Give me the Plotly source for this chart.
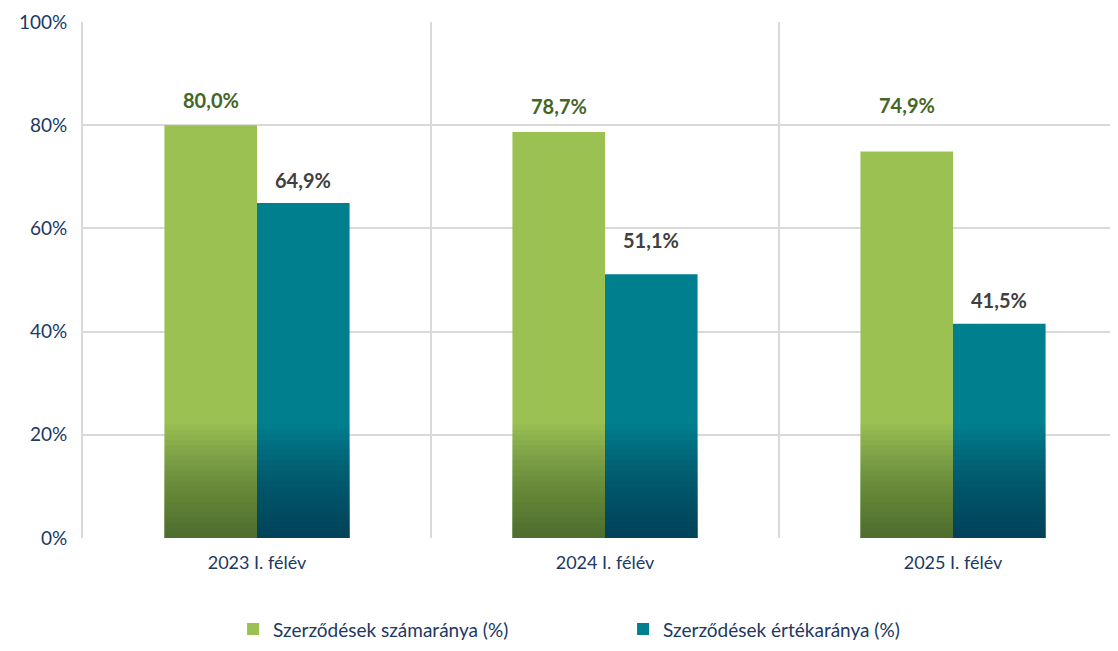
import plotly.graph_objects as go

# Chart data
categories = ['2023 I. félév', '2024 I. félév', '2025 I. félév']
series_names = ['Szerződések számaránya (%)', 'Szerződések értékaránya (%)']
szamarany = [80.0, 78.7, 74.9]
ertekarany = [64.9, 51.1, 41.5]

# Styling
FONT = 'Lato, Open Sans, sans-serif'
AXIS_COLOR = '#203864'
GRID_COLOR = '#d9d9d9'
colors = ['#9BC153', '#00808F']
dark = ['rgba(40,55,25,{a})', 'rgba(40,30,60,{a})']
label_colors = ['#436626', '#404040']
label_shift = [[25, 26, 47], [23, 34, 24]]  # px above the bar top
BAR_W = 0.266
offsets = [-BAR_W, 0.0]
CAT_PX = 348  # pixels per category

# gradient layers near the bottom (percent levels)
grad_levels = list(range(22, 0, -1))
grad_alpha = 0.036


def fmt(v):
    return f'{v:.1f}'.replace('.', ',') + '%'


fig = go.Figure()

for i, (name, vals) in enumerate(zip(series_names, [szamarany, ertekarany])):
    y = [v / 100 for v in vals]
    fig.add_trace(go.Bar(
        x=categories, y=y, name=name,
        marker=dict(color=colors[i], line=dict(width=0)),
        width=BAR_W, offset=offsets[i],
        hoverinfo='skip',
    ))
    # darkening layers to mimic the bottom gradient
    for lvl in grad_levels:
        fig.add_trace(go.Bar(
            x=categories, y=[min(v, lvl) / 100 for v in vals],
            marker=dict(color=dark[i].format(a=grad_alpha), line=dict(width=0)),
            width=BAR_W, offset=offsets[i],
            showlegend=False, hoverinfo='skip',
        ))
    # value labels
    for j, (c, v) in enumerate(zip(categories, vals)):
        fig.add_annotation(
            x=c, y=v / 100, xshift=(offsets[i] + BAR_W / 2) * CAT_PX,
            text=f'<b>{fmt(v)}</b>', showarrow=False,
            yshift=label_shift[i][j],
            font=dict(family=FONT, size=20, color=label_colors[i]),
        )

# page body has an 8px margin, so the figure is sized to fit the window
fig.update_layout(
    barmode='overlay',
    width=1110, height=643,
    margin=dict(l=75, r=0, t=14, b=113),
    paper_bgcolor='white', plot_bgcolor='white',
    font=dict(family=FONT, color=AXIS_COLOR),
    legend=dict(
        orientation='h', x=0.145, xanchor='left', y=-0.14, yanchor='top',
        font=dict(family=FONT, size=19, color=AXIS_COLOR),
        entrywidth=345, itemwidth=30,
    ),
    xaxis=dict(
        range=[-0.5, -0.5 + 1035 / CAT_PX],
        tickson='boundaries', showgrid=True, gridcolor=GRID_COLOR, gridwidth=2,
        ticks='', tickfont=dict(family=FONT, size=18, color=AXIS_COLOR),
        showline=False, zeroline=False, automargin=False, ticklabelstandoff=12,
    ),
    yaxis=dict(
        range=[0, 1], dtick=0.2, tickformat='.0%',
        showgrid=True, gridcolor=GRID_COLOR, gridwidth=2,
        tickfont=dict(family=FONT, size=19, color=AXIS_COLOR),
        showline=True, linecolor=GRID_COLOR, linewidth=2,
        zeroline=False, ticks='', ticklabelstandoff=10, automargin=False,
    ),
)

fig.write_html('out.html')
